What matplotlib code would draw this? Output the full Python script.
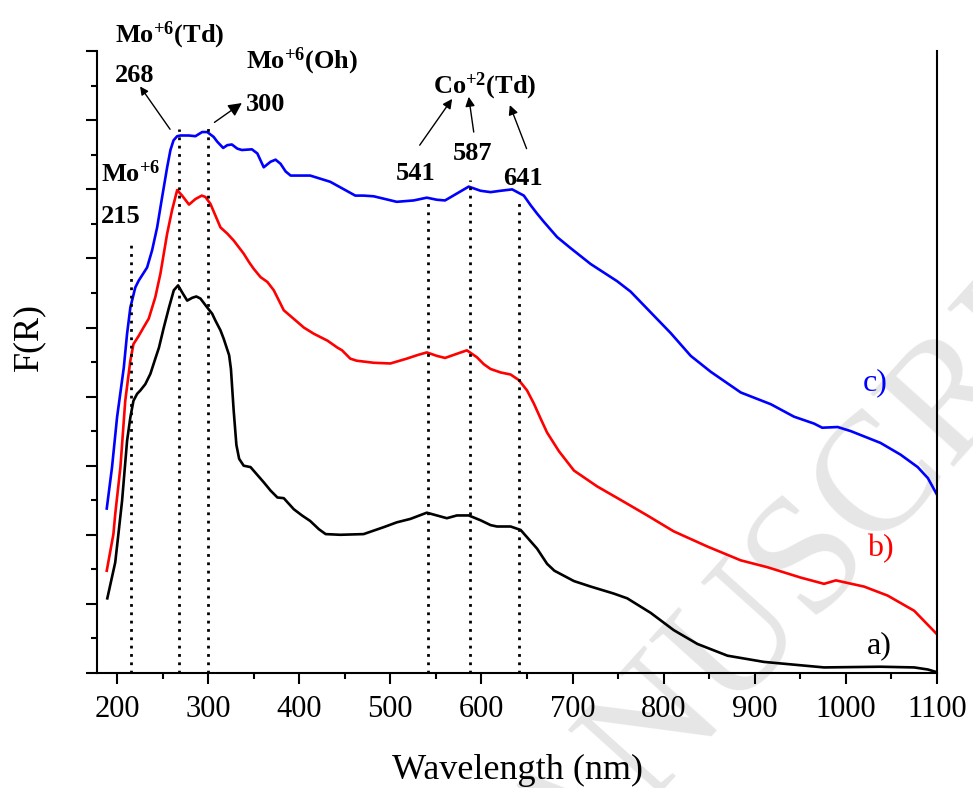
import numpy as np
import matplotlib
matplotlib.use('Agg')
import matplotlib.pyplot as plt
from matplotlib.ticker import MultipleLocator, NullFormatter

plt.rcParams['font.family'] = ['Liberation Serif', 'DejaVu Serif']
plt.rcParams['mathtext.fontset'] = 'custom'
plt.rcParams['mathtext.rm'] = 'Liberation Serif'
plt.rcParams['mathtext.bf'] = 'Liberation Serif:bold'

# sample a) - black
wl_a = [189.3, 198, 201.9, 205.5, 211, 214.6, 218, 222, 225.6, 231, 236.6, 242, 246, 251.3, 257,
        262.3, 267, 271.4, 277, 282.4, 287, 291.5, 299, 304.4, 308, 313.5, 317, 323, 325, 328,
        331, 334, 339, 346.5, 361, 368.5, 376, 383, 394, 403, 412, 421.6, 429, 445, 470.6,
        492.6, 507, 522, 540, 551, 562, 573, 586, 599, 610, 617, 632, 643, 661, 672, 680,
        701.5, 720, 745, 760, 785.7, 811, 837, 870, 910, 976, 1038, 1075, 1090, 1100]
fr_a = [1.08, 1.60, 2.06, 2.49, 3.36, 3.70, 3.94, 4.04, 4.09, 4.18, 4.33, 4.55, 4.71, 5.00, 5.29,
        5.54, 5.61, 5.51, 5.39, 5.43, 5.45, 5.42, 5.29, 5.20, 5.10, 4.96, 4.84, 4.60, 4.40, 3.80,
        3.30, 3.10, 3.00, 2.98, 2.76, 2.64, 2.54, 2.53, 2.37, 2.28, 2.20, 2.08, 2.01, 2.00, 2.01,
        2.11, 2.18, 2.23, 2.32, 2.28, 2.24, 2.28, 2.28, 2.21, 2.14, 2.12, 2.12, 2.07, 1.80, 1.58, 1.48,
        1.33, 1.25, 1.15, 1.08, 0.87, 0.62, 0.42, 0.25, 0.16, 0.08, 0.09, 0.08, 0.05, 0.01]

# sample b) - red
wl_b = [188.7, 196, 198, 203.7, 209, 214.6, 218, 223.8, 229, 234.8, 242, 247.6, 255, 260.4, 266,
        271.4, 279, 286, 293, 297, 302.5, 308, 313.5, 321, 328, 339, 344.7, 350, 357.5, 365,
        372, 377.7, 383, 398, 405, 416, 431, 441.8, 447, 456, 463, 481.7, 500, 518, 529.4, 540,
        551, 560, 573, 584, 595, 602.5, 610, 621, 632, 641, 650, 657.5, 665, 672, 685, 701.5,
        727, 756, 782, 811, 848, 884.6, 914, 950.5, 976, 989, 1020, 1045.8, 1075, 1100]
fr_b = [1.48, 2.01, 2.30, 2.98, 3.94, 4.52, 4.76, 4.88, 5.00, 5.13, 5.44, 5.78, 6.36, 6.70, 6.99,
        6.91, 6.78, 6.86, 6.91, 6.89, 6.79, 6.62, 6.45, 6.36, 6.26, 6.07, 5.95, 5.85, 5.73, 5.66,
        5.54, 5.39, 5.25, 5.08, 5.00, 4.91, 4.81, 4.71, 4.67, 4.55, 4.52, 4.49, 4.48, 4.55, 4.60, 4.64,
        4.59, 4.56, 4.62, 4.67, 4.57, 4.47, 4.40, 4.35, 4.32, 4.24, 4.09, 3.90, 3.68, 3.48, 3.21, 2.93,
        2.70, 2.48, 2.28, 2.05, 1.83, 1.63, 1.53, 1.38, 1.29, 1.34, 1.25, 1.12, 0.90, 0.56]

# sample c) - blue
wl_c = [188.7, 194.5, 200, 207.4, 211, 214.6, 220, 223.8, 233, 238.5, 244, 249.5, 255, 258.6, 262,
        266, 269.6, 278.8, 286, 293.4, 299, 306, 310, 316.5, 321, 326, 332, 337, 348, 354, 361,
        368.5, 374, 379.5, 385, 390.5, 412, 434, 445, 461.5, 470.6, 481.7, 507, 525.6, 540, 551,
        560, 573, 586, 599, 610, 621, 633.7, 646.5, 654, 661, 668.5, 683, 697.8, 719.8, 749,
        763.7, 785.7, 807.7, 829.7, 851.6, 884.6, 917.6, 943, 965, 974, 991, 1005.5, 1038, 1060,
        1078.8, 1090, 1100]
fr_c = [2.38, 2.98, 3.70, 4.42, 4.91, 5.29, 5.58, 5.68, 5.87, 6.12, 6.45, 6.89, 7.32, 7.57, 7.71,
        7.77, 7.78, 7.78, 7.77, 7.83, 7.83, 7.76, 7.69, 7.60, 7.64, 7.65, 7.59, 7.57, 7.58, 7.52, 7.32,
        7.40, 7.43, 7.37, 7.26, 7.20, 7.20, 7.11, 7.03, 6.91, 6.91, 6.90, 6.82, 6.84, 6.88, 6.85,
        6.84, 6.94, 7.04, 6.98, 6.96, 6.98, 7.00, 6.91, 6.77, 6.65, 6.53, 6.31, 6.15, 5.92, 5.67,
        5.52, 5.22, 4.92, 4.59, 4.36, 4.06, 3.89, 3.71, 3.61, 3.55, 3.56, 3.50, 3.33, 3.16,
        2.98, 2.82, 2.58]

# band positions (nm) and top of dotted guide lines
band_wl = [215, 268, 300, 541, 587, 641]
band_top = [6.22, 7.88, 7.96, 6.87, 7.14, 6.81]

fig = plt.figure(figsize=(9.73, 7.88), dpi=100)
ax = fig.add_axes([0.0997, 0.146, 0.8633, 0.789])
ax.patch.set_alpha(0)

# watermark
fig.text(0.821, 0.272, 'MANUSCRIPT', rotation=48, rotation_mode='anchor',
         ha='center', va='center', fontsize=122, color='#e6e6e6', zorder=-5)

for wl, fr, col in [(wl_a, fr_a, 'black'), (wl_b, fr_b, '#ff0000'), (wl_c, fr_c, '#0000ff')]:
    ax.plot(wl, fr, color=col, lw=1.9, solid_joinstyle='round')

ax.vlines(band_wl, 0, band_top, colors='black', linestyles=(0, (1, 2)), lw=2)

ax.set_xlim(178, 1100)
ax.set_ylim(0, 9)
ax.xaxis.set_major_locator(MultipleLocator(100))
ax.xaxis.set_minor_locator(MultipleLocator(50))
ax.yaxis.set_major_locator(MultipleLocator(1))
ax.yaxis.set_minor_locator(MultipleLocator(0.5))
ax.yaxis.set_major_formatter(NullFormatter())
ax.spines['top'].set_visible(False)
for s in ['left', 'right', 'bottom']:
    ax.spines[s].set_linewidth(1.5)
ax.tick_params(which='both', direction='out', width=1.5, right=False, top=False)
ax.tick_params(which='major', length=8, labelsize=22, pad=8)
ax.tick_params(which='minor', length=4.5)

ax.set_xlabel('Wavelength (nm)', fontsize=26)
ax.xaxis.set_label_coords(0.5, -0.13)
ax.set_ylabel('F(R)', fontsize=26)
ax.yaxis.set_label_coords(-0.061, 0.54)

# sample labels
ax.text(1018, 4.2, 'c)', color='#0000ff', fontsize=23, ha='left', va='center')
ax.text(1023, 1.8, 'b)', color='#ff0000', fontsize=23, ha='left', va='center')
ax.text(1023, 0.4, 'a)', color='black', fontsize=23, ha='left', va='center')

# band annotations
bold = dict(fontsize=19, ha='left', va='baseline')
ax.text(197.8, 9.13, r'$\mathbf{Mo^{+6}(Td)}$', **bold)
ax.text(197.8, 8.55, '268', fontweight='bold', **bold)
ax.text(341.8, 8.75, r'$\mathbf{Mo^{+6}(Oh)}$', **bold)
ax.text(341.8, 8.13, '300', fontweight='bold', **bold)
ax.text(182.4, 7.11, r'$\mathbf{Mo^{+6}}$', **bold)
ax.text(182.4, 6.51, '215', fontweight='bold', **bold)
ax.text(547.3, 8.39, r'$\mathbf{Co^{+2}(Td)}$', **bold)
ax.text(505.5, 7.13, '541', fontweight='bold', **bold)
ax.text(568, 7.42, '587', fontweight='bold', **bold)
ax.text(624.2, 7.06, '641', fontweight='bold', **bold)

arrows = [((258.2, 7.87), (225.3, 8.49), 12),
          ((306.9, 7.97), (337.0, 8.25), 20),
          ((532.2, 7.64), (567.8, 8.31), 14),
          ((591.5, 7.83), (586.0, 8.34), 14),
          ((649.5, 7.59), (631.1, 8.22), 14)]
for tail, tip, ms in arrows:
    ax.annotate('', xy=tip, xytext=tail, annotation_clip=False,
                arrowprops=dict(arrowstyle='-|>', color='black', lw=1,
                                mutation_scale=ms, shrinkA=0, shrinkB=0))

fig.savefig('out.png', dpi=100)
